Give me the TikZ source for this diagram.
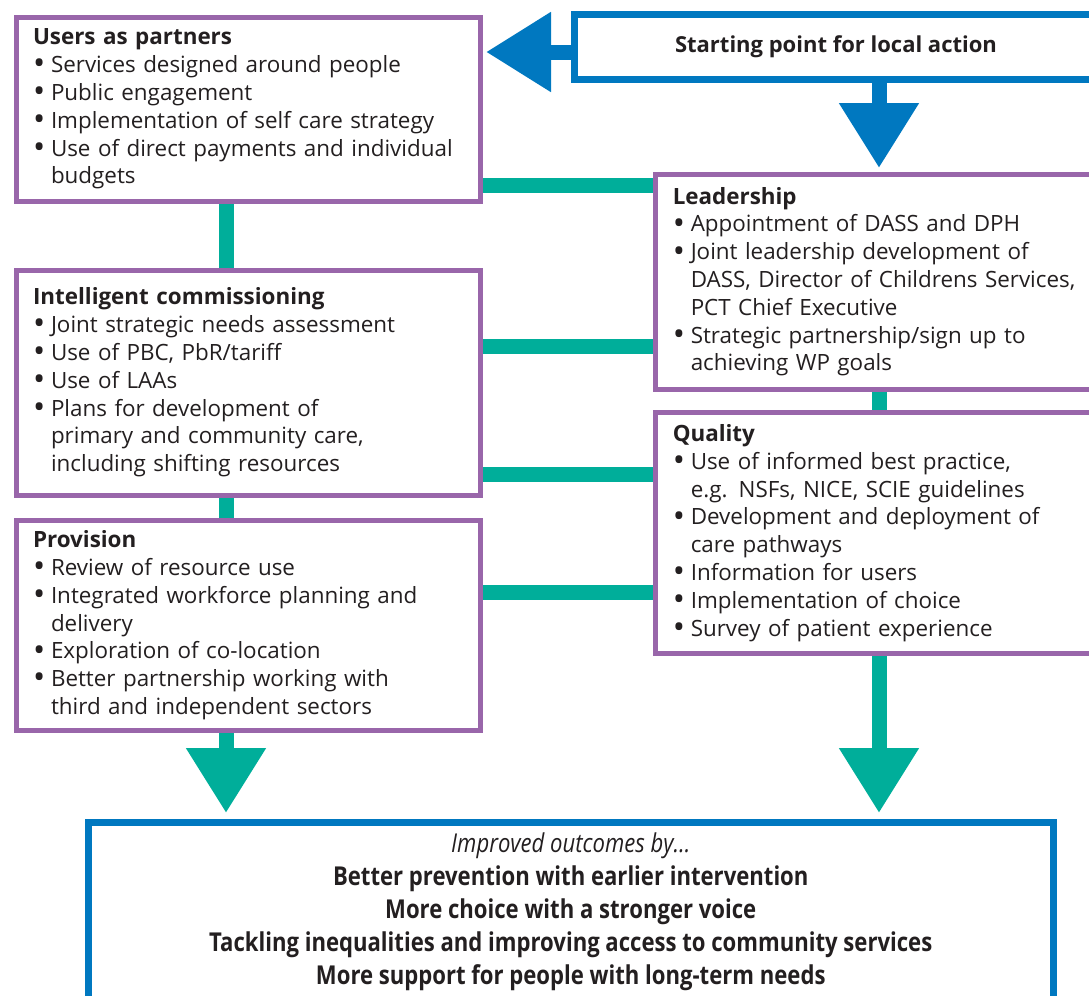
\documentclass[tikz,border=0pt]{standalone}
\usepackage{fontspec}
\usepackage{graphicx}
\setmainfont{Open Sans}
\newfontfamily\outfont{Open Sans}[FakeStretch=0.85]
\usetikzlibrary{arrows.meta,backgrounds}
\definecolor{boxpurple}{RGB}{153,102,170}
\definecolor{linkteal}{RGB}{0,174,154}
\definecolor{startblue}{RGB}{0,120,192}
\definecolor{inkgray}{RGB}{35,31,32}
\hyphenpenalty=10000
\exhyphenpenalty=10000
\tikzstyle{area} = [rectangle, draw=boxpurple, line width=2.5pt, fill=white, anchor=north west, inner xsep=8.5pt, text=inkgray, align=left, font=\fontsize{11.2}{13.9}\selectfont]
\tikzstyle{frame} = [rectangle, draw=startblue, line width=3.5pt, fill=white, anchor=north west, text=inkgray, align=center]
\tikzstyle{link} = [draw=linkteal, line width=7.5pt]
\tikzstyle{bigarrow} = [line width=7.5pt, shorten >=1.75pt, -{Triangle[length=32.5pt,width=38pt]}]
\newcommand{\bitem}{\par\noindent\hangindent=9pt\hangafter=1\makebox[9pt][l]{\raisebox{-0.1em}{\scalebox{1.45}{\textbullet}}}}

\begin{document}
\begin{tikzpicture}[x=0.5pt,y=-0.5pt]
    \useasboundingbox (0,0) rectangle (1089,996);
    \clip (0,0) rectangle (1089,996);

    % Left column
    \node [area, minimum width=232pt, minimum height=92pt, text width=215pt] (users) at (13.5,14.5) {\textbf{Users as partners}
        \bitem Services designed around people
        \bitem Public engagement
        \bitem Implementation of self care strategy
        \bitem Use of direct payments and individual\newline budgets\par};
    \node [area, minimum width=232pt, minimum height=112.5pt, text width=215pt] (ic) at (13.5,267.5) {\textbf{Intelligent commissioning}
        \bitem Joint strategic needs assessment
        \bitem Use of PBC, PbR/tariff
        \bitem Use of LAAs
        \bitem Plans for development of\newline primary and community care,\newline including shifting resources\par};
    \node [area, minimum width=232pt, minimum height=105.25pt, text width=215pt] (prov) at (13.5,517.5) {\textbf{Provision}
        \bitem Review of resource use
        \bitem Integrated workforce planning and\newline delivery
        \bitem Exploration of co-location
        \bitem Better partnership working with\newline third and independent sectors\par};

    % Right column
    \node [frame, minimum width=261.5pt, minimum height=32.5pt, font=\bfseries\fontsize{11}{13.9}\selectfont] (start) at (571,11) {Starting point for local action};
    \node [area, minimum width=233.75pt, minimum height=107.75pt, text width=216pt] (lead) at (652.5,171.5) {\textbf{Leadership}
        \bitem Appointment of DASS and DPH
        \bitem Joint leadership development of\newline DASS, Director of Childrens Services,\newline PCT Chief Executive
        \bitem Strategic partnership/sign up to\newline achieving WP goals\par};
    \node [area, minimum width=233.75pt, minimum height=120.5pt, text width=216pt] (quality) at (652.5,410) {\textbf{Quality}
        \bitem Use of informed best practice,\newline e.g. NSFs, NICE, SCIE guidelines
        \bitem Development and deployment of\newline care pathways
        \bitem Information for users
        \bitem Implementation of choice
        \bitem Survey of patient experience\par};

    % Outcomes
    \node [frame, minimum width=482.25pt, minimum height=89pt, font=\outfont\fontsize{13}{16.5}\selectfont] (outcome) at (85,819) {\textit{Improved outcomes by\ldots}\\
        \textbf{Better prevention with earlier intervention}\\
        \textbf{More choice with a stronger voice}\\
        \textbf{Tackling inequalities and improving access to community services}\\
        \textbf{More support for people with long-term needs}};

    % Connections
    \coordinate (lcol) at (226,0);
    \coordinate (rcol) at (879,0);
    \begin{scope}[on background layer]
        \draw [link] (users.south -| lcol) -- (ic.north -| lcol);
        \draw [link] (ic.south -| lcol) -- (prov.north -| lcol);
        \draw [link] (lead.south -| rcol) -- (quality.north -| rcol);
        \draw [link] (users.east |- 0,185) -- (lead.west |- 0,185);
        \draw [link] (ic.east |- 0,346) -- (lead.west |- 0,346);
        \draw [link] (ic.east |- 0,474) -- (quality.west |- 0,474);
        \draw [link] (prov.east |- 0,592) -- (quality.west |- 0,592);
        \draw [bigarrow, startblue] (start.west |- 0,52) -- (users.east |- 0,52);
        \draw [bigarrow, startblue] (start.south -| rcol) -- (lead.north -| rcol);
        \draw [bigarrow, linkteal, shorten >=3pt] (prov.south -| lcol) -- (outcome.north -| lcol);
        \draw [bigarrow, linkteal, shorten >=3pt] (quality.south -| rcol) -- (outcome.north -| rcol);
    \end{scope}
\end{tikzpicture}
\end{document}
